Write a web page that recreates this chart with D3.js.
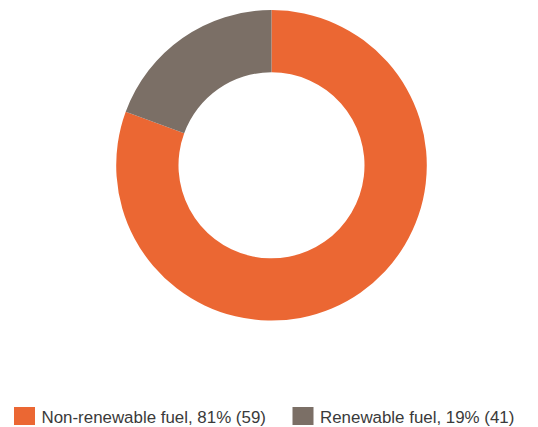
<!DOCTYPE html>
<html><head><meta charset="utf-8">
<script src="https://cdn.jsdelivr.net/npm/d3@7"></script>
<style>html,body{margin:0;padding:0;background:#fff;}svg{display:block;}</style>
</head><body>
<svg id="chart" width="538" height="427"></svg>
<script>
const categories = ["Non-renewable fuel", "Renewable fuel"];
const values = [80.6, 19.4];
const legendLabels = ["Non-renewable fuel, 81% (59)", "Renewable fuel, 19% (41)"];
const colors = ["#EB6733", "#7B6F66"];

const svg = d3.select("#chart");
const cx = 271.5, cy = 165.3, R = 155.3, r = 93;
const data = categories.map((c, i) => ({cat: c, value: values[i], color: colors[i], label: legendLabels[i]}));
const pie = d3.pie().sort(null).value(d => d.value);
const arc = d3.arc().innerRadius(r).outerRadius(R);
svg.append("g").attr("transform", `translate(${cx},${cy})`)
  .selectAll("path").data(pie(data)).join("path")
  .attr("d", arc).attr("fill", d => d.data.color);

const legX = [14, 292.5];
const lg = svg.append("g");
data.forEach((d, i) => {
  const g = lg.append("g").attr("transform", `translate(${legX[i]},407)`);
  g.append("rect").attr("width", 21).attr("height", 18).attr("fill", d.color);
  g.append("text").attr("x", 27.5).attr("y", 15.5)
    .attr("font-family", "Liberation Sans, Arial, sans-serif").attr("font-size", 16.9)
    .attr("fill", "#3a3a3a").text(d.label);
});
</script>
</body></html>
